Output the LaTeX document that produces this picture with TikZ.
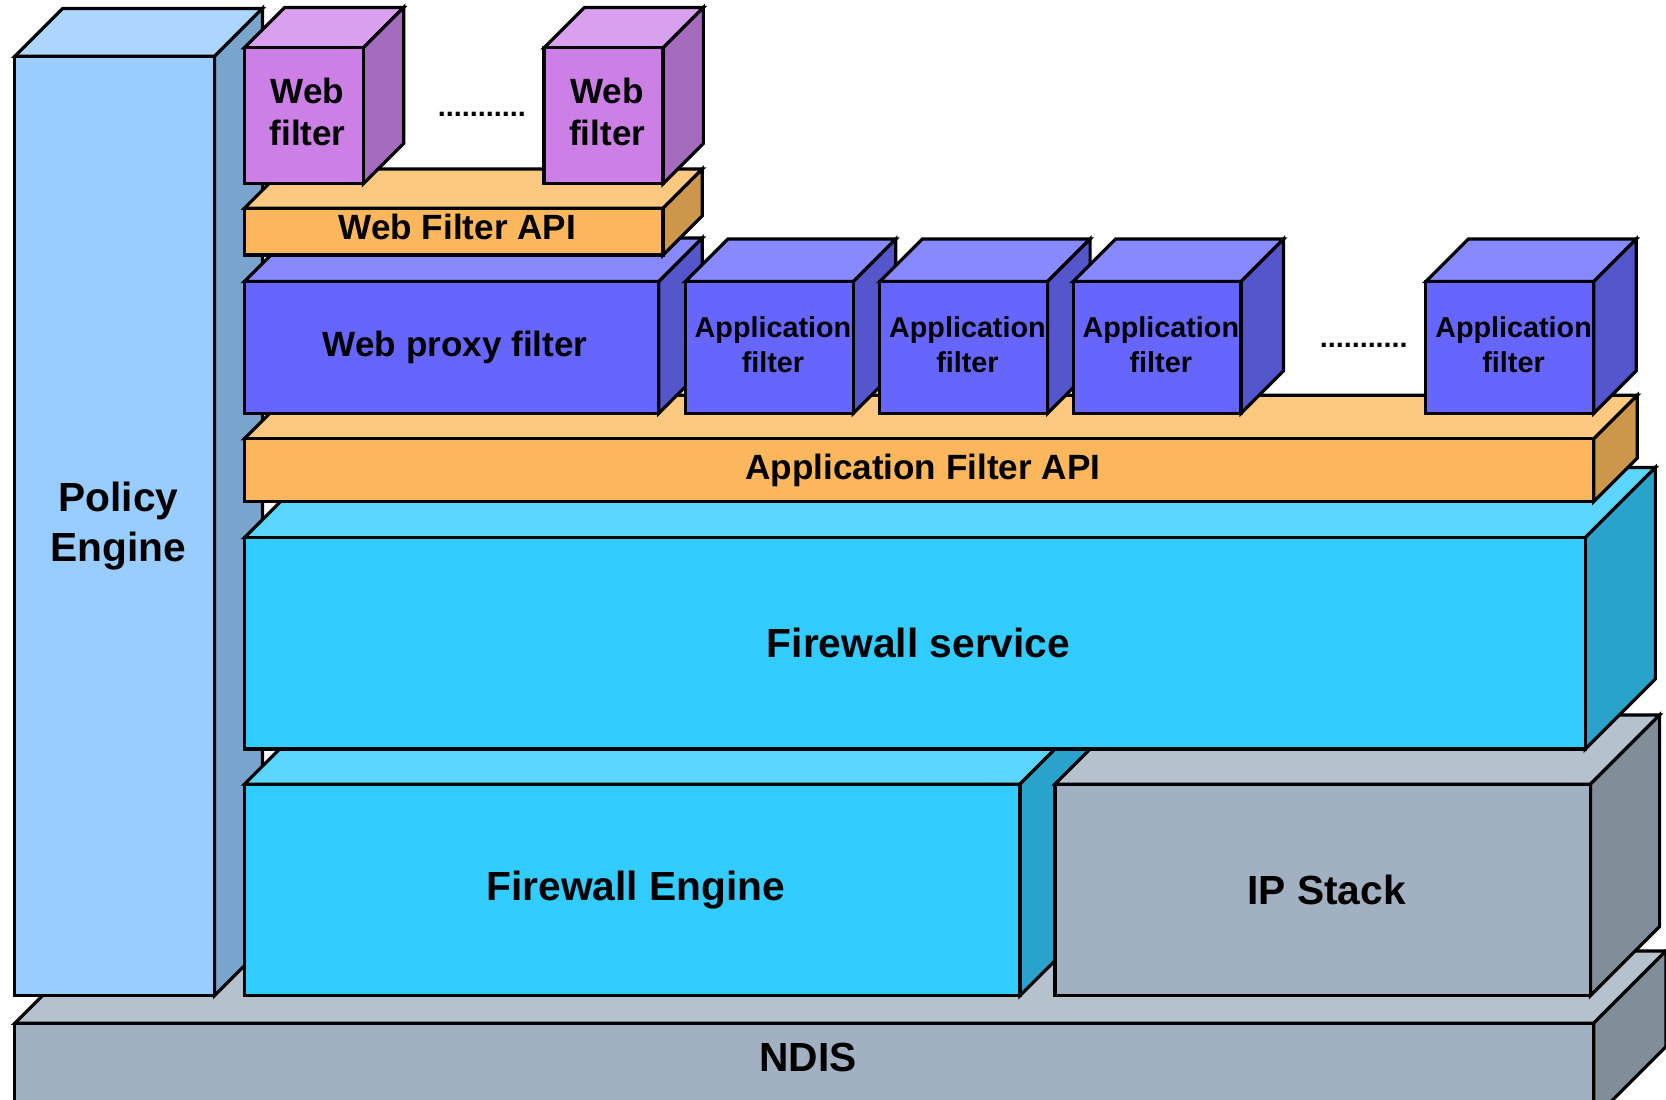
\documentclass[tikz,border=0pt]{standalone}
\usepackage{fontspec}
\setmainfont{Liberation Sans}

% face colours: F = front, T = top, S = side
\definecolor{polF}{HTML}{99CCFF}\definecolor{polT}{HTML}{ADD6FF}\definecolor{polS}{HTML}{79A5CC}
\definecolor{webF}{HTML}{CC80E6}\definecolor{webT}{HTML}{D9A0F0}\definecolor{webS}{HTML}{A46BBD}
\definecolor{apiF}{HTML}{FCB75C}\definecolor{apiT}{HTML}{FDC87F}\definecolor{apiS}{HTML}{CC964B}
\definecolor{bluF}{HTML}{6666FF}\definecolor{bluT}{HTML}{8888FF}\definecolor{bluS}{HTML}{5555CC}
\definecolor{cyaF}{HTML}{33CCFF}\definecolor{cyaT}{HTML}{5CD6FF}\definecolor{cyaS}{HTML}{2AA3CC}
\definecolor{gryF}{HTML}{A2B1C1}\definecolor{gryT}{HTML}{B5C1CD}\definecolor{gryS}{HTML}{828D9A}

% #1 name, #2 x, #3 y (front top-left), #4 width, #5 height, #6 depth,
% #7 colour family, #8 label style, #9 label
\newcommand{\layerbox}[9]{%
  \filldraw[face, fill=#7T] (#2,#3) -- ++(#6,-#6) -- ++(#4,0) -- ++(-#6,#6) -- cycle;
  \filldraw[face, fill=#7S] (#2+#4,#3) -- ++(#6,-#6) -- ++(0,#5) -- ++(-#6,#6) -- cycle;
  \filldraw[face, fill=#7F] (#2,#3) rectangle ++(#4,#5);
  \node[#8] (#1) at (#2+#4/2,#3+#5/2) {#9};
}

\begin{document}
\begin{tikzpicture}[
  x=0.1mm, y=-0.1mm,
  face/.style={draw=black, line width=0.85pt, line join=miter},
  lbl/.style={align=center, inner sep=0pt, xshift=0.35mm},
  big/.style={lbl, font=\fontsize{10.9}{13.2}\selectfont\bfseries},
  mid/.style={lbl, font=\fontsize{9.4}{11.4}\selectfont\bfseries},
  small/.style={lbl, font=\fontsize{7.7}{9.4}\selectfont\bfseries},
  dots/.style={lbl, font=\fontsize{7.7}{9.4}\selectfont\bfseries}]

  \useasboundingbox (0,0) rectangle (1568,1035);
  \clip (0,0) rectangle (1568,1035);

  % base layers
  \layerbox{ndis}{14}{963}{1486}{90}{68}{gry}{{big, yshift=1.3mm}}{NDIS}
  \layerbox{policy}{14}{53}{188}{884}{45}{pol}{big}{Policy\\Engine}
  \layerbox{fweng}{230}{738}{730}{199}{65}{cya}{big}{Firewall Engine}
  \layerbox{ipstack}{993}{738}{504}{199}{65}{gry}{big}{IP Stack}
  \layerbox{fwserv}{230}{506}{1262}{199}{66}{cya}{big}{Firewall service}
  \layerbox{appapi}{230}{413}{1270}{59}{41}{api}{mid}{Application Filter API}

  % application filters
  \layerbox{proxy}{230}{265}{390}{124}{41}{blu}{mid}{Web proxy filter}
  \layerbox{appA}{645}{265}{158}{124}{40}{blu}{{small, yshift=0.25mm}}{Application\\filter}
  \layerbox{appB}{828}{265}{158}{124}{40}{blu}{{small, yshift=0.25mm}}{Application\\filter}
  \layerbox{appC}{1010}{265}{158}{124}{40}{blu}{{small, yshift=0.25mm}}{Application\\filter}
  \layerbox{appD}{1342}{265}{158}{124}{40}{blu}{{small, yshift=0.25mm}}{Application\\filter}
  \node[dots] (appdots) at (1280,325) {...........};

  % web filters
  \layerbox{webapi}{230}{196}{394}{44}{37}{api}{{mid, yshift=0.4mm}}{Web Filter API}
  \layerbox{webA}{230}{45}{112}{128}{38}{web}{{mid, yshift=0.35mm}}{Web\\filter}
  \layerbox{webB}{512}{45}{112}{128}{38}{web}{{mid, yshift=0.35mm}}{Web\\filter}
  \node[dots] (webdots) at (450,108) {...........};
\end{tikzpicture}
\end{document}
